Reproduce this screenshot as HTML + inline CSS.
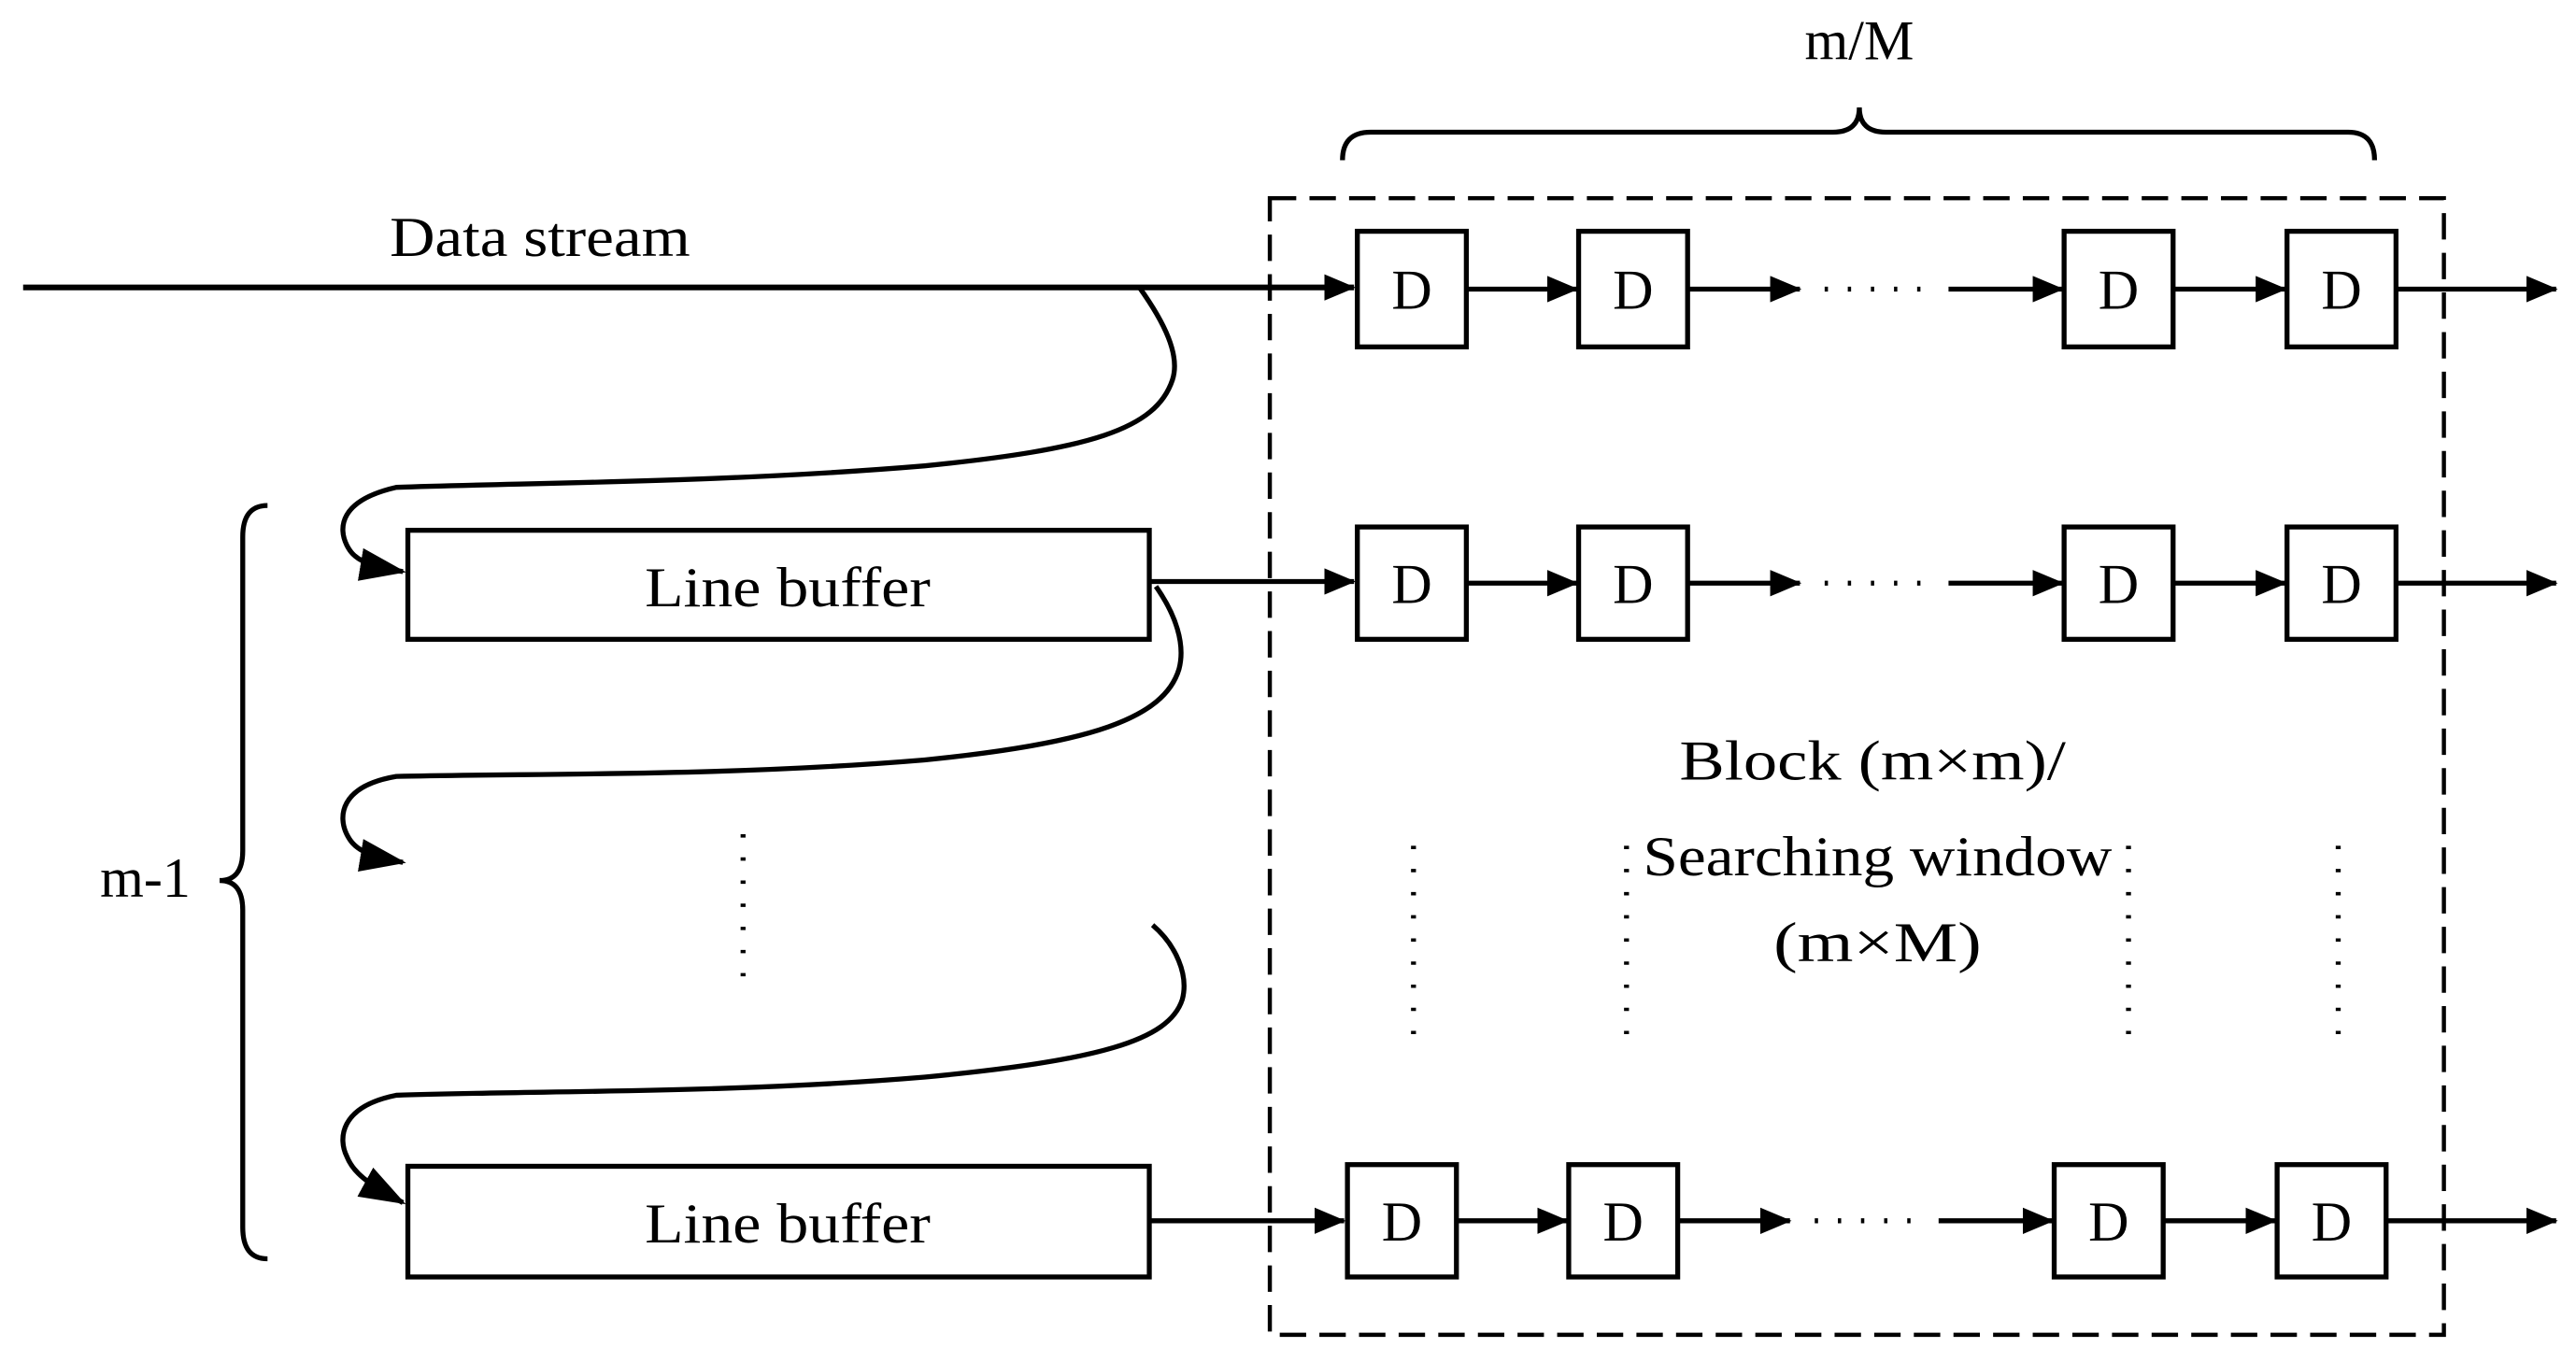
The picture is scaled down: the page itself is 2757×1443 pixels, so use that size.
<!DOCTYPE html>
<html><head><meta charset="utf-8"><style>html,body{margin:0;padding:0;background:#fff}svg{display:block}</style></head>
<body>
<svg width="2757" height="1443" viewBox="0 0 1560 816" preserveAspectRatio="none" xmlns="http://www.w3.org/2000/svg">
<defs>
<marker id="a" markerWidth="19" markerHeight="16" refX="18" refY="8" orient="auto" markerUnits="userSpaceOnUse" viewBox="0 0 19 16">
<path d="M0,0 L19,8 L0,16 z" fill="#000"/></marker>
<marker id="b" markerWidth="28" markerHeight="20" refX="26" refY="10" orient="auto" markerUnits="userSpaceOnUse" viewBox="0 0 28 20">
<path d="M0,0 L28,10 L0,20 z" fill="#000"/></marker>
</defs>
<g font-family="Liberation Serif, serif" font-size="34" fill="#000">
<text x="1126" y="36" text-anchor="middle">m/M</text>
<text x="327" y="155" text-anchor="middle" textLength="182" lengthAdjust="spacingAndGlyphs">Data stream</text>
<text x="477" y="367" text-anchor="middle" textLength="173" lengthAdjust="spacingAndGlyphs">Line buffer</text>
<text x="477" y="752" text-anchor="middle" textLength="173" lengthAdjust="spacingAndGlyphs">Line buffer</text>
<text x="88" y="543" text-anchor="middle">m-1</text>
<text x="1134" y="472" text-anchor="middle" textLength="234" lengthAdjust="spacingAndGlyphs">Block (m×m)/</text>
<text x="1137" y="530" text-anchor="middle" textLength="284" lengthAdjust="spacingAndGlyphs">Searching window</text>
<text x="1137" y="582" text-anchor="middle" textLength="126" lengthAdjust="spacingAndGlyphs">(m×M)</text>
</g>
<g fill="none" stroke="#000" stroke-width="3">
<path d="M813,97 Q813,80 830,80 L1110,80 Q1126,80 1126,65 Q1126,80 1142,80 L1422,80 Q1438,80 1438,97"/>
<path d="M162,306 Q147,306 147,325 L147,515 Q147,533 133,533 Q147,533 147,551 L147,743 Q147,762 162,762"/>
<rect x="769" y="120" width="711" height="688" stroke-dasharray="16,8" stroke-width="2.5"/>
<rect x="247" y="321" width="449" height="66"/>
<rect x="247" y="706" width="449" height="67"/>
<line x1="14" y1="174" x2="820" y2="174" marker-end="url(#a)" stroke-width="3.5"/>
<line x1="696" y1="352" x2="820" y2="352" marker-end="url(#a)"/>
<line x1="696" y1="739" x2="814" y2="739" marker-end="url(#a)"/>
<path d="M690,174 C705,195 715,215 710,230 C700,260 660,272 560,282 C440,292 330,292 240,295 C205,303 205,320 210,330 C214,338 220,342 244,346" marker-end="url(#b)"/>
<path d="M700,355 C712,372 718,390 714,405 C705,435 660,450 560,460 C440,470 330,468 240,470 C205,476 205,495 210,505 C214,513 220,518 244,522" marker-end="url(#b)"/>
<path d="M698,560 C712,572 720,590 716,605 C708,630 665,642 560,652 C440,662 330,660 240,663 C205,670 205,690 210,700 C214,710 222,716 244,728" marker-end="url(#b)"/>
</g>
<g fill="none" stroke="#000" stroke-width="3">
<rect x="822" y="140" width="66" height="70"/><rect x="956" y="140" width="66" height="70"/>
<rect x="1250" y="140" width="66" height="70"/><rect x="1385" y="140" width="66" height="70"/>
<line x1="888" y1="175" x2="955" y2="175" marker-end="url(#a)"/>
<line x1="1022" y1="175" x2="1090" y2="175" marker-end="url(#a)"/>
<line x1="1180" y1="175" x2="1249" y2="175" marker-end="url(#a)"/>
<line x1="1316" y1="175" x2="1384" y2="175" marker-end="url(#a)"/>
<line x1="1451" y1="175" x2="1548" y2="175" marker-end="url(#a)"/>
<rect x="822" y="319" width="66" height="68"/><rect x="956" y="319" width="66" height="68"/>
<rect x="1250" y="319" width="66" height="68"/><rect x="1385" y="319" width="66" height="68"/>
<line x1="888" y1="353" x2="955" y2="353" marker-end="url(#a)"/>
<line x1="1022" y1="353" x2="1090" y2="353" marker-end="url(#a)"/>
<line x1="1180" y1="353" x2="1249" y2="353" marker-end="url(#a)"/>
<line x1="1316" y1="353" x2="1384" y2="353" marker-end="url(#a)"/>
<line x1="1451" y1="353" x2="1548" y2="353" marker-end="url(#a)"/>
<rect x="816" y="705" width="66" height="68"/><rect x="950" y="705" width="66" height="68"/>
<rect x="1244" y="705" width="66" height="68"/><rect x="1379" y="705" width="66" height="68"/>
<line x1="882" y1="739" x2="949" y2="739" marker-end="url(#a)"/>
<line x1="1016" y1="739" x2="1084" y2="739" marker-end="url(#a)"/>
<line x1="1174" y1="739" x2="1243" y2="739" marker-end="url(#a)"/>
<line x1="1310" y1="739" x2="1378" y2="739" marker-end="url(#a)"/>
<line x1="1445" y1="739" x2="1548" y2="739" marker-end="url(#a)"/>
</g>
<g stroke="#000" stroke-width="3" stroke-dasharray="2,12" fill="none">
<line x1="1105" y1="175" x2="1165" y2="175"/>
<line x1="1105" y1="353" x2="1165" y2="353"/>
<line x1="1099" y1="739" x2="1159" y2="739"/>
<line x1="450" y1="505" x2="450" y2="600"/>
<line x1="856" y1="512" x2="856" y2="626"/>
<line x1="985" y1="512" x2="985" y2="626"/>
<line x1="1289" y1="512" x2="1289" y2="626"/>
<line x1="1416" y1="512" x2="1416" y2="626"/>
</g>
<g font-family="Liberation Serif, serif" font-size="34" text-anchor="middle">
<text x="855" y="187">D</text><text x="989" y="187">D</text><text x="1283" y="187">D</text><text x="1418" y="187">D</text>
<text x="855" y="365">D</text><text x="989" y="365">D</text><text x="1283" y="365">D</text><text x="1418" y="365">D</text>
<text x="849" y="751">D</text><text x="983" y="751">D</text><text x="1277" y="751">D</text><text x="1412" y="751">D</text>
</g>
</svg>
</body></html>
